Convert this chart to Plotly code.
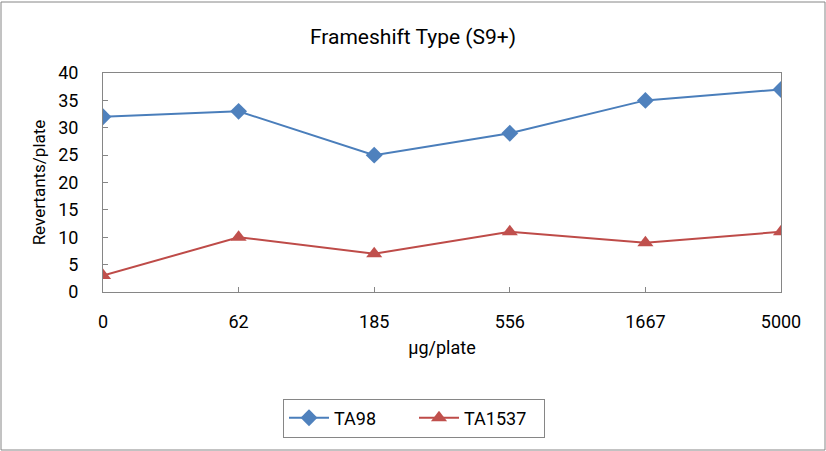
import plotly.graph_objects as go

doses = ["0", "62", "185", "556", "1667", "5000"]
ta98 = [32, 33, 25, 29, 35, 37]
ta1537 = [3, 10, 7, 11, 9, 11]
y_ticks = [0, 5, 10, 15, 20, 25, 30, 35, 40]

W, H = 826, 451
L, R, T, B = 103, 45, 73, 159
pw, ph = W - L - R, H - T - B

font = "Roboto, Open Sans, Arial"
fig = go.Figure()
xs = list(range(len(doses)))
fig.add_trace(go.Scatter(x=xs, y=ta98, name="TA98", mode="lines+markers",
                         line=dict(color="#4A7EBB", width=2),
                         marker=dict(symbol="diamond", size=13, color="#4F81BD")))
fig.add_trace(go.Scatter(x=xs, y=ta1537, name="TA1537", mode="lines+markers",
                         line=dict(color="#BE4B48", width=2),
                         marker=dict(symbol="triangle-up", size=14, color="#C0504D")))

fig.update_layout(
    width=W, height=H,
    margin=dict(l=L, r=R, t=T, b=B),
    paper_bgcolor="white", plot_bgcolor="white",
    font=dict(family=font, size=18, color="black"),
    title=dict(text="Frameshift Type (S9+)", x=(W / 2) / W, xanchor="center",
               y=1 - 37 / H, yanchor="middle", font=dict(size=21)),
    xaxis=dict(tickmode="array", tickvals=xs, ticktext=doses, range=[0, 5],
               showline=True, linecolor="#868686", mirror=True, linewidth=1,
               ticks="inside", ticklen=5, tickcolor="#868686",
               showgrid=False, zeroline=False, ticklabelstandoff=13,
               title=dict(text="μg/plate", standoff=10, font=dict(size=18))),
    yaxis=dict(range=[0, 40], tickvals=y_ticks,
               showline=True, linecolor="#868686", mirror=True, linewidth=1,
               ticks="inside", ticklen=5, tickcolor="#868686",
               showgrid=False, zeroline=False, ticklabelstandoff=20,
               title=dict(text="Revertants/plate", standoff=8, font=dict(size=17))),
    legend=dict(orientation="h", x=(414 - L) / pw, xanchor="center",
                y=-(418 - T - ph) / ph, yanchor="middle",
                bordercolor="#868686", borderwidth=1, font=dict(size=18),
                itemwidth=40, entrywidthmode="pixels", entrywidth=75),
    showlegend=True,
)
# chart-area border
fig.add_shape(type="rect", xref="paper", yref="paper",
              x0=-(L - 1) / pw, x1=1 + (R - 1) / pw,
              y0=-(B - 1) / ph, y1=1 + (T - 2) / ph,
              line=dict(color="#868686", width=1), layer="below")
fig.write_html("out.html")
